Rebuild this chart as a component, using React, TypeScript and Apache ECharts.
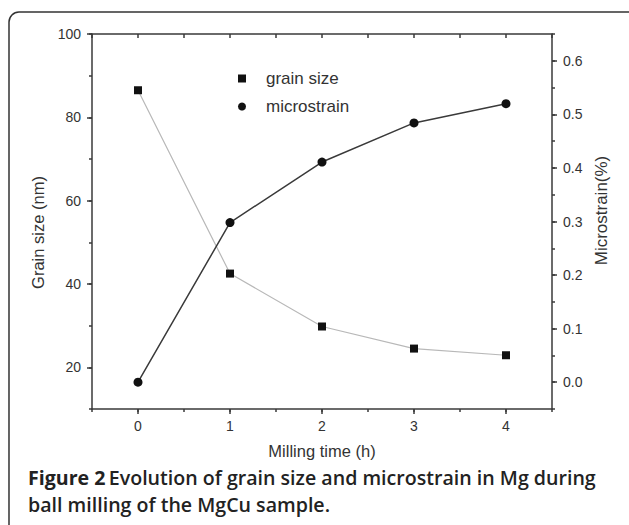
import React, { useEffect, useRef } from "react";
import * as echarts from "echarts";

const millingTime = [0, 1, 2, 3, 4];
const grainSize = [86.5, 42.5, 29.8, 24.5, 22.9];
const microstrain = [0.0, 0.298, 0.411, 0.484, 0.52];
const xMajorTicks = [0, 1, 2, 3, 4];
const leftMajorTicks = [20, 40, 60, 80, 100];
const rightMajorTicks = [0, 0.1, 0.2, 0.3, 0.4, 0.5, 0.6];

const TXT = "#333";
const AX = "#3a3a3a";
const FONT = "'Liberation Sans', Arial, sans-serif";
const CAP_FONT = "'Open Sans', sans-serif";

export default function App() {
  const ref = useRef<HTMLDivElement>(null);
  useEffect(() => {
    if (!ref.current) return;
    const chart = echarts.init(ref.current, undefined, { renderer: "svg" });
    const lineSty = { color: AX, width: 1.5 };
    const label = { color: TXT, fontSize: 14, fontFamily: FONT };
    const nameSty = { color: TXT, fontSize: 16.5, fontFamily: FONT };
    const mainLine = { onZero: false, lineStyle: lineSty };
    const noLine = { show: false, onZero: false };
    const capRich = {
      b: { fontFamily: CAP_FONT, fontSize: 19.6, fontWeight: 700, fill: "#222" },
      s: { fontFamily: CAP_FONT, fontSize: 19.6, fontWeight: 600, fill: "#222" },
    };
    chart.setOption({
      animation: false,
      backgroundColor: "#fff",
      grid: { left: 92, top: 34, width: 460, height: 375 },
      legend: {
        orient: "vertical",
        left: 233,
        top: 65,
        itemWidth: 8,
        itemHeight: 8,
        itemGap: 11,
        textStyle: { color: TXT, fontSize: 17, fontFamily: FONT, padding: [0, 0, 0, 15] },
        data: [
          { name: "grain size", icon: "rect" },
          { name: "microstrain", icon: "circle" },
        ],
      },
      xAxis: [
        {
          type: "value", position: "bottom", min: -0.5, max: 4.5, interval: 0.5,
          name: "Milling time (h)", nameLocation: "middle", nameGap: 33, nameTextStyle: nameSty,
          axisLine: mainLine,
          axisTick: { customValues: xMajorTicks, length: 5, lineStyle: lineSty },
          axisLabel: { customValues: xMajorTicks, margin: 10, ...label },
          splitLine: { show: false },
        },
        {
          type: "value", position: "bottom", min: -0.5, max: 4.5, interval: 0.5,
          axisLine: noLine,
          axisTick: { length: 3, lineStyle: lineSty },
          axisLabel: { show: false },
          splitLine: { show: false },
        },
        {
          type: "value", position: "top", min: -0.5, max: 4.5, interval: 0.5,
          axisLine: mainLine,
          axisTick: { inside: true, length: 4, lineStyle: lineSty },
          axisLabel: { show: false },
          splitLine: { show: false },
        },
      ],
      yAxis: [
        {
          type: "value", position: "left", min: 10, max: 100, interval: 10,
          name: "Grain size (nm)", nameLocation: "middle", nameGap: 42,
          nameTextStyle: { ...nameSty, padding: [0, 22, 0, 0] },
          axisLine: mainLine,
          axisTick: { customValues: leftMajorTicks, length: 5, lineStyle: lineSty },
          axisLabel: { customValues: leftMajorTicks, margin: 11, ...label },
          splitLine: { show: false },
        },
        {
          type: "value", position: "left", min: 10, max: 100, interval: 10,
          axisLine: noLine,
          axisTick: { length: 3, lineStyle: lineSty },
          axisLabel: { show: false },
          splitLine: { show: false },
        },
        {
          type: "value", position: "right", min: -0.05, max: 0.65, interval: 0.05,
          name: "Microstrain(%)", nameLocation: "middle", nameGap: 41,
          nameTextStyle: { ...nameSty, fontSize: 17, padding: [0, 0, 0, 22] },
          axisLine: mainLine,
          axisTick: { customValues: rightMajorTicks, length: 5, lineStyle: lineSty },
          axisLabel: {
            customValues: rightMajorTicks, margin: 11, ...label,
            formatter: (v: number) => v.toFixed(1),
          },
          splitLine: { show: false },
        },
        {
          type: "value", position: "right", min: -0.05, max: 0.65, interval: 0.05,
          axisLine: noLine,
          axisTick: { length: 3, lineStyle: lineSty },
          axisLabel: { show: false },
          splitLine: { show: false },
        },
      ],
      series: [
        {
          name: "grain size", type: "line", xAxisIndex: 0, yAxisIndex: 0,
          data: millingTime.map((t, i) => [t, grainSize[i]]),
          symbol: "rect", symbolSize: 8,
          itemStyle: { color: "#111" },
          lineStyle: { color: "#b8b8b8", width: 1.2 },
        },
        {
          name: "microstrain", type: "line", xAxisIndex: 0, yAxisIndex: 2,
          data: millingTime.map((t, i) => [t, microstrain[i]]),
          symbol: "circle", symbolSize: 9,
          itemStyle: { color: "#111" },
          lineStyle: { color: "#3a3a3a", width: 1.5 },
        },
      ],
      graphic: [
        {
          type: "rect", z: 100, silent: true,
          shape: { x: 9, y: 12, width: 640, height: 540, r: 10 },
          style: { fill: "none", stroke: "#333", lineWidth: 1.5 },
        },
        {
          type: "text", left: 28, top: 467,
          style: {
            text: "{b|Figure 2} {s|Evolution of grain size and microstrain in Mg during}",
            rich: capRich,
          },
        },
        {
          type: "text", left: 28, top: 494,
          style: {
            text: "{s|ball milling of the MgCu sample.}",
            rich: capRich,
          },
        },
      ],
    });
    return () => chart.dispose();
  }, []);
  return (
    <div
      ref={ref}
      style={{ position: "absolute", left: 0, top: 0, width: 629, height: 525 }}
    />
  );
}
